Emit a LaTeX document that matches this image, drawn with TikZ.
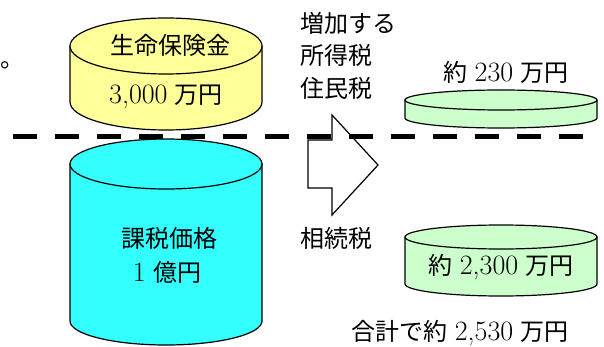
\documentclass[tikz,border=0pt]{standalone}
\usepackage{fontspec}
\newfontfamily\cjk{Noto Sans CJK JP}
\newcommand\dg[1]{{\fontsize{28}{30}\selectfont #1}}
\definecolor{cylyellow}{RGB}{255,255,153}
\definecolor{cylcyan}{RGB}{51,255,255}
\definecolor{cylgreen}{RGB}{204,255,204}
\begin{document}
\begin{tikzpicture}[x=1pt,y=-1pt,
  cylbody/.style={draw=black,line width=1.2pt,line join=round},
  lbl/.style={inner sep=0pt,font=\fontsize{24}{28}\selectfont},
  bigdash/.style={line width=5pt,dash pattern=on 24pt off 18pt}]
\useasboundingbox (0,0) rectangle (604,347);
% yellow cylinder
\path[cylbody,fill=cylyellow] (70,46) -- (70,102) arc[start angle=180,end angle=0,x radius=96,y radius=28] -- (262,46) -- cycle;
\path[cylbody,fill=cylyellow] (166,46) ellipse[x radius=96,y radius=28];
% cyan cylinder
\path[cylbody,fill=cylcyan] (70,164) -- (70,321) arc[start angle=180,end angle=0,x radius=96,y radius=24] -- (262,164) -- cycle;
\path[cylbody,fill=cylcyan] (166,164) ellipse[x radius=96,y radius=25];
% small green cylinder
\path[cylbody,fill=cylgreen] (405,100) -- (405,118) arc[start angle=180,end angle=0,x radius=96,y radius=10] -- (597,100) -- cycle;
\path[cylbody,fill=cylgreen] (501,100) ellipse[x radius=96,y radius=10];
% large green cylinder
\path[cylbody,fill=cylgreen] (405,237) -- (405,284) arc[start angle=180,end angle=0,x radius=96,y radius=12] -- (597,237) -- cycle;
\path[cylbody,fill=cylgreen] (501,237) ellipse[x radius=96,y radius=12];
% block arrow
\path[draw=black,fill=white,line width=1.2pt,line join=miter] (308,140) -- (332,140) -- (332,115) -- (378,165) -- (332,215) -- (332,188) -- (308,188) -- cycle;
% dashed line
\draw[bigdash] (13,137) -- (583,137);
% texts
\node[lbl,anchor=base west] (dot) at (0,68) {\cjk 。};
\node[lbl] (ins) at (170,45) {\cjk 生命保険金};
\node[lbl] (insv) at (166,97) {\dg{3,000} {\cjk 万円}};
\node[lbl] (tax) at (169,238) {\cjk 課税価格};
\node[lbl] (taxv) at (167,272) {\dg{1} {\cjk 億円}};
\node[lbl,anchor=west] (inc1) at (300,23) {\cjk 増加する};
\node[lbl,anchor=west] (inc2) at (300,55) {\cjk 所得税};
\node[lbl,anchor=west] (inc3) at (300,88) {\cjk 住民税};
\node[lbl] (v230) at (506,72) {{\cjk 約} \dg{230} {\cjk 万円}};
\node[lbl,anchor=west] (inh) at (300,238) {\cjk 相続税};
\node[lbl] (v2300) at (501,267) {{\cjk 約} \dg{2,300} {\cjk 万円}};
\node[lbl] (total) at (460,333) {{\cjk 合計で約} \dg{2,530} {\cjk 万円}};
\end{tikzpicture}
\end{document}
